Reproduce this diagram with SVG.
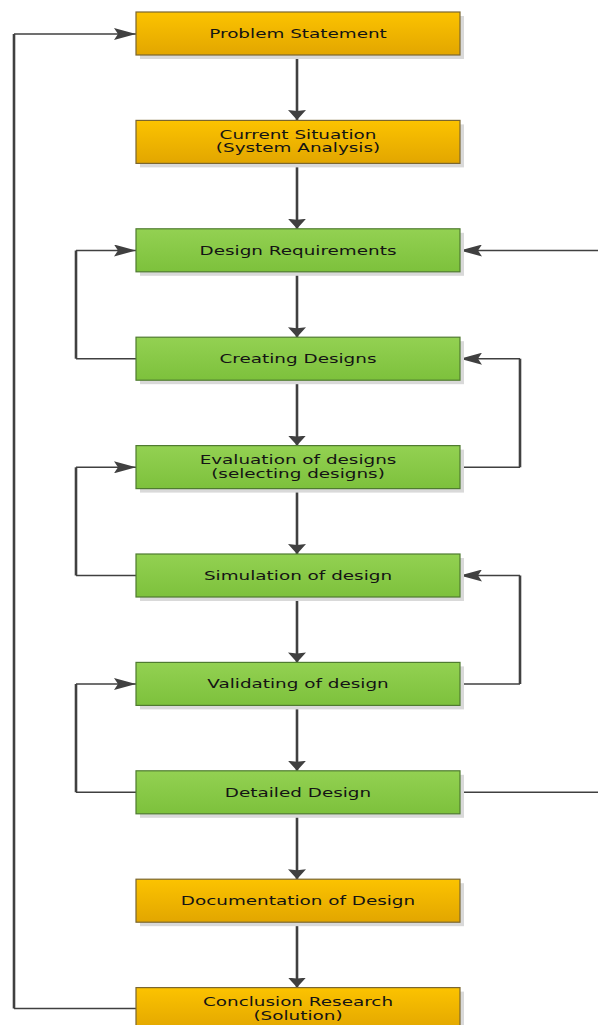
<svg xmlns="http://www.w3.org/2000/svg" width="598" height="1025" viewBox="0 0 598 1025">
  <defs>
    <linearGradient id="gOrange" x1="0" y1="0" x2="0" y2="1">
      <stop offset="0" stop-color="#FCC300"/>
      <stop offset="1" stop-color="#E2A600"/>
    </linearGradient>
    <linearGradient id="gGreen" x1="0" y1="0" x2="0" y2="1">
      <stop offset="0" stop-color="#93D152"/>
      <stop offset="1" stop-color="#7DC13C"/>
    </linearGradient>
    <!-- arrowheads: a long one for horizontal runs, a flat wide one for vertical runs -->
    <marker id="arrH" markerUnits="userSpaceOnUse" markerWidth="22" markerHeight="12" viewBox="0 0 22 12" refX="22" refY="6" orient="auto">
      <path d="M0,0 L22,6 L0,12 L4,6 Z" fill="#404040"/>
    </marker>
    <marker id="arrV" markerUnits="userSpaceOnUse" markerWidth="10" markerHeight="18" viewBox="0 0 10 18" refX="10" refY="9" orient="auto">
      <path d="M0,0 L10,9 L0,18 L1,9 Z" fill="#404040"/>
    </marker>
  </defs>
  <style>
    .shadow { fill: #D9D9D9; }
    .orange { fill: url(#gOrange); stroke: #7A6630; stroke-width: 1.2; }
    .green { fill: url(#gGreen); stroke: #4F7B30; stroke-width: 1.2; }
    .label { font-family: "DejaVu Sans", Verdana, sans-serif; font-size: 12.5px; fill: #141414; text-anchor: middle; }
    .flow { fill: none; stroke: #404040; stroke-width: 2.6; }
    .loopH { fill: none; stroke: #404040; stroke-width: 1.6; }
    .loopV { fill: none; stroke: #404040; stroke-width: 2.6; }
  </style>

  <!-- connectors -->
  <g id="connectors">
    <!-- main downward flow -->
    <line class="flow" x1="297" y1="55" x2="297" y2="120" marker-end="url(#arrV)"/>
    <line class="flow" x1="297" y1="163.4" x2="297" y2="228.8" marker-end="url(#arrV)"/>
    <line class="flow" x1="297" y1="271.8" x2="297" y2="337.2" marker-end="url(#arrV)"/>
    <line class="flow" x1="297" y1="380.2" x2="297" y2="445.6" marker-end="url(#arrV)"/>
    <line class="flow" x1="297" y1="488.6" x2="297" y2="554" marker-end="url(#arrV)"/>
    <line class="flow" x1="297" y1="597" x2="297" y2="662.4" marker-end="url(#arrV)"/>
    <line class="flow" x1="297" y1="705.4" x2="297" y2="770.8" marker-end="url(#arrV)"/>
    <line class="flow" x1="297" y1="813.8" x2="297" y2="879.2" marker-end="url(#arrV)"/>
    <line class="flow" x1="297" y1="922.2" x2="297" y2="987.6" marker-end="url(#arrV)"/>

    <!-- outer return: conclusion back to problem statement -->
    <path class="loopH" d="M136,1008.5 L14,1008.5"/>
    <path class="loopV" d="M14,1008.5 L14,34"/>
    <path class="loopH" d="M14,34 L136,34" marker-end="url(#arrH)"/>

    <!-- right return: detailed design back to design requirements -->
    <path class="loopH" d="M460,792.3 L598,792.3"/>
    <path class="loopH" d="M598,250.5 L460,250.5" marker-end="url(#arrH)"/>

    <!-- creating designs back to design requirements -->
    <path class="loopH" d="M136,358.7 L76,358.7"/>
    <path class="loopV" d="M76,358.7 L76,250.5"/>
    <path class="loopH" d="M76,250.5 L136,250.5" marker-end="url(#arrH)"/>

    <!-- evaluation back to creating designs -->
    <path class="loopH" d="M460,467.3 L520,467.3"/>
    <path class="loopV" d="M520,467.3 L520,358.7"/>
    <path class="loopH" d="M520,358.7 L460,358.7" marker-end="url(#arrH)"/>

    <!-- simulation back to evaluation -->
    <path class="loopH" d="M136,575.5 L76,575.5"/>
    <path class="loopV" d="M76,575.5 L76,467.3"/>
    <path class="loopH" d="M76,467.3 L136,467.3" marker-end="url(#arrH)"/>

    <!-- validating back to simulation -->
    <path class="loopH" d="M460,684 L520,684"/>
    <path class="loopV" d="M520,684 L520,575.5"/>
    <path class="loopH" d="M520,575.5 L460,575.5" marker-end="url(#arrH)"/>

    <!-- detailed design back to validating -->
    <path class="loopH" d="M136,792.3 L76,792.3"/>
    <path class="loopV" d="M76,792.3 L76,684"/>
    <path class="loopH" d="M76,684 L136,684" marker-end="url(#arrH)"/>
  </g>

  <!-- nodes -->
  <g id="problem-statement">
    <rect class="shadow" x="140" y="16" width="324" height="43"/>
    <rect class="orange" x="136" y="12" width="324" height="43"/>
    <text class="label" transform="translate(298,38) scale(1.47,1)">Problem Statement</text>
  </g>
  <g id="current-situation">
    <rect class="shadow" x="140" y="124.4" width="324" height="43"/>
    <rect class="orange" x="136" y="120.4" width="324" height="43"/>
    <text class="label" transform="translate(298,138.5) scale(1.47,1)">Current Situation</text>
    <text class="label" transform="translate(298,152) scale(1.47,1)">(System Analysis)</text>
  </g>
  <g id="design-requirements">
    <rect class="shadow" x="140" y="232.8" width="324" height="43"/>
    <rect class="green" x="136" y="228.8" width="324" height="43"/>
    <text class="label" transform="translate(298,254.8) scale(1.47,1)">Design Requirements</text>
  </g>
  <g id="creating-designs">
    <rect class="shadow" x="140" y="341.2" width="324" height="43"/>
    <rect class="green" x="136" y="337.2" width="324" height="43"/>
    <text class="label" transform="translate(298,363.2) scale(1.47,1)">Creating Designs</text>
  </g>
  <g id="evaluation-of-designs">
    <rect class="shadow" x="140" y="449.6" width="324" height="43"/>
    <rect class="green" x="136" y="445.6" width="324" height="43"/>
    <text class="label" transform="translate(298,464) scale(1.47,1)">Evaluation of designs</text>
    <text class="label" transform="translate(298,477.5) scale(1.47,1)">(selecting designs)</text>
  </g>
  <g id="simulation-of-design">
    <rect class="shadow" x="140" y="558" width="324" height="43"/>
    <rect class="green" x="136" y="554" width="324" height="43"/>
    <text class="label" transform="translate(298,580) scale(1.47,1)">Simulation of design</text>
  </g>
  <g id="validating-of-design">
    <rect class="shadow" x="140" y="666.4" width="324" height="43"/>
    <rect class="green" x="136" y="662.4" width="324" height="43"/>
    <text class="label" transform="translate(298,688.4) scale(1.47,1)">Validating of design</text>
  </g>
  <g id="detailed-design">
    <rect class="shadow" x="140" y="774.8" width="324" height="43"/>
    <rect class="green" x="136" y="770.8" width="324" height="43"/>
    <text class="label" transform="translate(298,796.8) scale(1.47,1)">Detailed Design</text>
  </g>
  <g id="documentation-of-design">
    <rect class="shadow" x="140" y="883.2" width="324" height="43"/>
    <rect class="orange" x="136" y="879.2" width="324" height="43"/>
    <text class="label" transform="translate(298,905.2) scale(1.47,1)">Documentation of Design</text>
  </g>
  <g id="conclusion-research">
    <rect class="shadow" x="140" y="991.6" width="324" height="43"/>
    <rect class="orange" x="136" y="987.6" width="324" height="43"/>
    <text class="label" transform="translate(298,1006) scale(1.47,1)">Conclusion Research</text>
    <text class="label" transform="translate(298,1020) scale(1.47,1)">(Solution)</text>
  </g>
</svg>
